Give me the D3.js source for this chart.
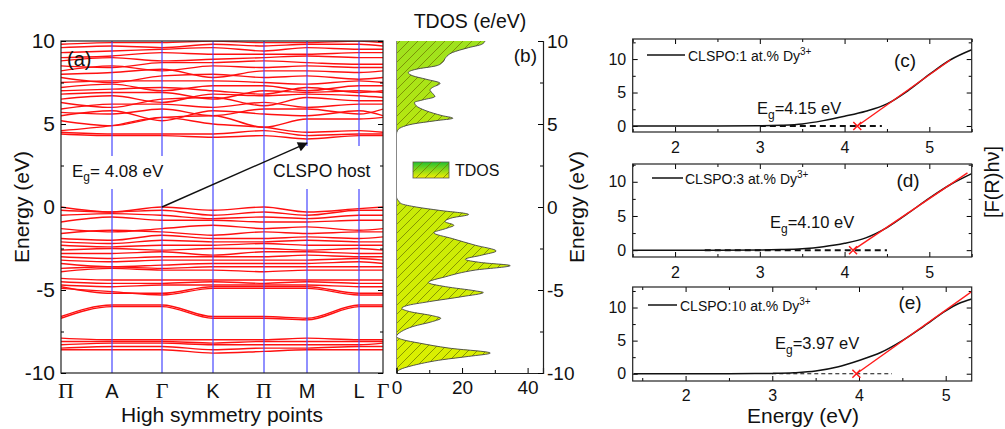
<!DOCTYPE html>
<html><head><meta charset="utf-8">
<script src="https://cdn.jsdelivr.net/npm/d3@7"></script>
<style>
body{margin:0;background:#fff}
svg{display:block}
text{font-family:Arial,"Liberation Sans",sans-serif;fill:#111}
.serif{font-family:"Liberation Serif","Times New Roman",serif}
</style></head>
<body><svg id="chart" width="1005" height="429"></svg>
<script>
// ---------------- DATA ----------------
// (a) band structure: energies (eV) at high-symmetry points along the path
const kLabels = ["Π","A","Γ","K","Π","M","L","Γ"];
const kPath   = [0, 51, 101, 152, 203, 246, 298, 322];
const conductionBands = [
  [4.4,4.3,4.3,4.2,4.3,4.1,4.3,4.3],
  [4.5,4.4,4.4,4.4,4.6,4.3,4.4,4.4],
  [4.6,4.9,5.4,5.0,4.8,4.5,4.6,4.5],
  [5.2,4.9,5.4,5.5,4.8,5.3,5.3,5.4],
  [5.5,5.8,5.2,5.8,5.6,5.5,5.8,5.5],
  [5.7,5.6,5.9,5.5,5.9,5.9,5.6,5.9],
  [5.9,6.2,6.2,6.0,6.3,6.0,6.2,6.2],
  [6.3,6.0,6.5,6.6,6.1,6.6,6.4,6.4],
  [6.5,6.7,6.3,6.8,6.7,6.8,6.7,6.6],
  [6.8,6.9,6.9,6.5,7.0,6.9,7.0,6.9],
  [7.0,7.1,7.2,7.0,6.8,7.2,6.9,7.0],
  [7.2,7.4,7.0,7.3,7.3,7.0,7.3,7.3],
  [7.5,7.6,7.6,7.6,7.5,7.4,7.6,7.5],
  [7.8,7.5,7.9,8.0,7.8,7.9,7.7,7.8],
  [8.0,8.1,8.3,7.8,8.2,8.2,8.1,8.2],
  [8.2,8.5,8.2,8.5,8.4,8.5,8.4,8.4],
  [8.5,8.4,8.7,8.7,8.8,8.7,8.6,8.6],
  [8.8,9.0,8.8,8.9,9.0,9.1,9.0,9.0],
  [9.0,9.1,9.3,9.2,9.2,9.2,9.3,9.3],
  [9.3,9.4,9.5,9.6,9.4,9.6,9.5,9.5],
  [9.6,9.7,9.6,9.8,9.7,9.8,9.8,9.7],
  [9.8,9.9,9.9,10.0,9.9,9.9,10.0,9.9]
];
const valenceBands = [
  [0.0,-0.3,0.0,-0.2,0.0,-0.3,-0.1,0.0],
  [-0.2,-0.3,-0.2,-0.5,-0.3,-0.5,-0.2,-0.2],
  [-0.5,-0.4,-0.5,-0.7,-0.6,-0.7,-0.5,-0.5],
  [-0.9,-0.6,-0.8,-0.8,-0.9,-0.9,-0.8,-0.8],
  [-1.3,-1.5,-1.3,-1.1,-1.3,-1.2,-1.4,-1.3],
  [-1.6,-1.4,-1.5,-1.7,-1.5,-1.6,-1.5,-1.5],
  [-1.9,-2.0,-1.7,-1.9,-1.9,-1.8,-1.9,-1.8],
  [-2.1,-2.2,-2.0,-2.1,-2.1,-2.0,-2.1,-2.1],
  [-2.3,-2.4,-2.3,-2.3,-2.2,-2.3,-2.3,-2.3],
  [-2.6,-2.5,-2.6,-2.5,-2.5,-2.6,-2.5,-2.6],
  [-2.8,-2.8,-2.7,-2.9,-2.7,-2.7,-2.8,-2.8],
  [-3.0,-3.1,-3.0,-3.0,-3.0,-2.9,-3.0,-3.0],
  [-3.2,-3.3,-3.2,-3.2,-3.2,-3.2,-3.1,-3.2],
  [-3.4,-3.6,-3.5,-3.4,-3.4,-3.4,-3.3,-3.4],
  [-3.7,-3.6,-3.7,-3.6,-3.6,-3.6,-3.6,-3.6],
  [-3.9,-3.7,-3.8,-3.8,-3.9,-3.8,-3.8,-3.8],
  [-4.3,-4.4,-4.4,-4.4,-4.4,-4.4,-4.4,-4.4],
  [-4.5,-4.6,-4.6,-4.5,-4.6,-4.5,-4.6,-4.6],
  [-4.7,-4.8,-4.7,-4.7,-4.7,-4.7,-4.8,-4.8],
  [-4.8,-5.2,-5.2,-4.8,-4.8,-4.8,-5.2,-5.2],
  [-4.9,-5.1,-5.3,-4.9,-4.9,-4.9,-5.3,-5.3],
  [-6.6,-5.9,-5.9,-6.6,-6.6,-6.7,-5.9,-5.9],
  [-6.7,-6.0,-6.0,-6.7,-6.7,-6.8,-6.0,-6.0],
  [-7.9,-8.0,-8.0,-8.0,-8.0,-7.9,-8.0,-8.0],
  [-8.1,-8.1,-8.1,-8.2,-8.1,-8.1,-8.1,-8.1],
  [-8.3,-8.2,-8.2,-8.3,-8.3,-8.3,-8.3,-8.2],
  [-8.5,-8.4,-8.4,-8.6,-8.5,-8.5,-8.4,-8.4],
  [-8.6,-8.6,-8.6,-8.8,-8.7,-8.6,-8.6,-8.6]
];
const gapArrowFrom = [2, 0.0];   // [k index, energy]
const gapArrowTo   = [5, 3.85];

// (b) TDOS
const tdosEnergy = [10.0,9.8,9.6,9.3,9.0,8.7,8.5,8.3,8.1,7.9,7.7,7.45,7.2,7.05,6.85,6.65,6.45,6.3,6.1,5.8,5.5,5.35,5.2,5.0,4.8,4.6,4.4,2.0,0.6,0.4,0.2,0.0,-0.2,-0.45,-0.65,-0.88,-1.1,-1.3,-1.55,-1.9,-2.3,-2.65,-2.9,-3.15,-3.35,-3.53,-3.8,-4.2,-4.55,-4.8,-5.05,-5.15,-5.4,-5.7,-5.95,-6.1,-6.3,-6.55,-6.7,-6.9,-7.2,-7.5,-7.8,-8.0,-8.2,-8.5,-8.8,-9.0,-9.2,-9.5,-9.8,-10.0];
const tdosValue  = [27,26,22,17,15,14,12,6,3.6,5,9,13.3,11,10.2,11,11.7,8,5.5,6,9,14,17.2,12,5,1.5,0.3,0,0,0,0.5,1.5,6,13,22,17,14.8,17.5,15,11.4,17,24,30.4,26,21,26,34.7,24,15,9.7,15,24,26.5,20,10,3,1.6,4,11,13.5,11,5,1.5,0,2,7,16,28.6,22,14,6,1,0];

// (c)-(e) Kubelka-Munk plots
const cEnergy = [1.5,2.0,2.5,3.0,3.25,3.5,3.75,4.0,4.25,4.5,4.75,5.0,5.25,5.5];
const cSignal = [0,0,0,0.02,0.1,0.3,0.8,1.45,2.2,3.3,5.3,7.7,9.9,11.4];
const cFitX = [4.15,5.25], cFitY = [0,9.9], cBase = [3.0,4.44];
const dEnergy = [1.5,2.0,2.5,3.0,3.25,3.5,3.75,4.0,4.25,4.5,4.75,5.0,5.25,5.5];
const dSignal = [0,0,0,0.02,0.08,0.2,0.5,1.0,1.8,3.3,5.4,7.6,9.6,11.2];
const dFitX = [4.10,5.45], dFitY = [0,11.3], dBase = [2.35,4.5];
const eEnergy = [1.4,2.0,2.5,2.8,3.0,3.25,3.5,3.75,4.0,4.25,4.5,4.75,5.0,5.15,5.3];
const eSignal = [0,0,0,0.02,0.05,0.15,0.4,1.0,2.0,3.2,5.0,7.2,9.5,10.6,11.3];
const eFitX = [3.97,5.3], eFitY = [0,12.4], eBase = [3.0,4.38];
const bandGaps = ["4.15","4.10","3.97"];
const dopings  = ["1","3","10"];
const panelTags = ["(c)","(d)","(e)"];

// ---------------- DRAW ----------------
const svg = d3.select("#chart");
const defs = svg.append("defs");
const plain = d => String(d);

// ===== Panel (a) =====
const ax = d3.scaleLinear().domain([0,322]).range([61,383]);
const ay = d3.scaleLinear().domain([-10,10]).range([373,41]);
defs.append("clipPath").attr("id","clipA").append("rect")
  .attr("x",61).attr("y",41).attr("width",322).attr("height",332);
const ga = svg.append("g");
const bandLine = d3.line().x((d,i)=>ax(kPath[i])).y(d=>ay(d)).curve(d3.curveMonotoneX);
ga.append("g").attr("clip-path","url(#clipA)")
  .selectAll("path").data(conductionBands.concat(valenceBands)).join("path")
  .attr("d",bandLine).attr("fill","none").attr("stroke","#ff1010").attr("stroke-width",1.4);
ga.append("g").selectAll("line").data(kPath.slice(1,-1)).join("line")
  .attr("x1",d=>ax(d)).attr("x2",d=>ax(d)).attr("y1",41).attr("y2",373)
  .attr("stroke","#4646ff").attr("stroke-width",1.2);
ga.append("rect").attr("x",61).attr("y",41).attr("width",322).attr("height",332)
  .attr("fill","none").attr("stroke","#222").attr("stroke-width",1.2);
// ticks
ga.append("g").attr("transform","translate(61,0)")
  .call(d3.axisLeft(ay).tickValues([-10,-5,0,5,10]).tickSize(-5).tickPadding(6).tickFormat(plain))
  .call(g=>{g.select(".domain").remove();g.selectAll("text").attr("font-size",21).attr("font-family",null);});
ga.append("g").attr("transform","translate(61,0)")
  .call(d3.axisLeft(ay).tickValues([-7.5,-2.5,2.5,7.5]).tickSize(-3).tickFormat(""))
  .call(g=>g.select(".domain").remove());
ga.append("g").attr("transform","translate(383,0)")
  .call(d3.axisRight(ay).tickValues([-10,-5,0,5,10]).tickSize(-5).tickFormat(""))
  .call(g=>g.select(".domain").remove());
ga.append("g").attr("transform","translate(383,0)")
  .call(d3.axisRight(ay).tickValues([-7.5,-2.5,2.5,7.5]).tickSize(-3).tickFormat(""))
  .call(g=>g.select(".domain").remove());
// k labels
ga.append("g").selectAll("text").data(kLabels).join("text")
  .attr("x",(d,i)=>ax(kPath[i]) + (i===0?5:0)).attr("y",398)
  .attr("text-anchor","middle").attr("font-size",d=>(d==="Π"||d==="Γ")?22:20)
  .attr("class",d=>(d==="Π"||d==="Γ")?"serif":null).text(d=>d);
ga.append("text").attr("x",222).attr("y",422).attr("text-anchor","middle").attr("font-size",21)
  .text("High symmetry points");
ga.append("text").attr("transform","translate(29,207) rotate(-90)").attr("text-anchor","middle")
  .attr("font-size",21).text("Energy (eV)");
ga.append("text").attr("x",67).attr("y",66).attr("font-size",20).text("(a)");
// labels with white background
ga.append("rect").attr("x",69).attr("y",156).attr("width",108).attr("height",33).attr("fill","#fff");
ga.append("rect").attr("x",270).attr("y",146).attr("width",108).attr("height",43).attr("fill","#fff");
const egA = ga.append("text").attr("x",72).attr("y",177).attr("font-size",17);
egA.append("tspan").text("E");
egA.append("tspan").attr("font-size",12).attr("dy",4).text("g");
egA.append("tspan").attr("dy",-4).text("= 4.08 eV");
ga.append("text").attr("x",273).attr("y",177).attr("font-size",17.5).text("CLSPO host");
defs.append("marker").attr("id","arrowHead").attr("viewBox","0 0 10 10").attr("refX",9).attr("refY",5)
  .attr("orient","auto").attr("markerUnits","userSpaceOnUse")
  .attr("markerWidth",12).attr("markerHeight",10)
  .append("path").attr("d","M0,0 L10,5 L0,10 Z").attr("fill","#111");
ga.append("line")
  .attr("x1",ax(kPath[gapArrowFrom[0]])).attr("y1",ay(gapArrowFrom[1]))
  .attr("x2",ax(kPath[gapArrowTo[0]])).attr("y2",ay(gapArrowTo[1]))
  .attr("stroke","#111").attr("stroke-width",1.4).attr("marker-end","url(#arrowHead)");

// ===== Panel (b) =====
const bx = d3.scaleLinear().domain([0,44.7]).range([396.5,543]);
const by = d3.scaleLinear().domain([-10,10]).range([373,41]);
const gb = svg.append("g");
const grad = defs.append("linearGradient").attr("id","tdosGrad").attr("gradientUnits","userSpaceOnUse")
  .attr("x1",0).attr("y1",41).attr("x2",0).attr("y2",373);
grad.append("stop").attr("offset","0%").attr("stop-color","#9ee21e");
grad.append("stop").attr("offset","40%").attr("stop-color","#c4ea08");
grad.append("stop").attr("offset","100%").attr("stop-color","#dcf000");
const lgrad = defs.append("linearGradient").attr("id","legGrad").attr("x1",0).attr("y1",0).attr("x2",0).attr("y2",1);
lgrad.append("stop").attr("offset","0%").attr("stop-color","#22c030");
lgrad.append("stop").attr("offset","100%").attr("stop-color","#f4f000");
const pat = defs.append("pattern").attr("id","hatch").attr("patternUnits","userSpaceOnUse")
  .attr("width",9).attr("height",9);
pat.append("path").attr("d","M-2,2 L2,-2 M0,9 L9,0 M7,11 L11,7")
  .attr("stroke","#6f7d00").attr("stroke-width",0.9).attr("opacity",0.85);
const tdos = tdosEnergy.map((e,i)=>({e, v: tdosValue[i]}));
const area = d3.area().y(d=>by(d.e)).x0(bx(0)).x1(d=>bx(d.v)).curve(d3.curveMonotoneY);
gb.append("path").datum(tdos).attr("d",area).attr("fill","url(#tdosGrad)");
gb.append("path").datum(tdos).attr("d",area).attr("fill","url(#hatch)");
gb.append("path").datum(tdos).attr("d",d3.line().y(d=>by(d.e)).x(d=>bx(d.v)).curve(d3.curveMonotoneY))
  .attr("fill","none").attr("stroke","#444").attr("stroke-width",0.9);
gb.append("line").attr("x1",396.5).attr("x2",396.5).attr("y1",41).attr("y2",373)
  .attr("stroke","#888").attr("stroke-width",1);
gb.append("g").attr("transform","translate(0,373)")
  .call(d3.axisBottom(bx).tickValues([0,20,40]).tickSize(-5).tickPadding(8).tickFormat(plain))
  .call(g=>{g.select(".domain").attr("stroke","#222").attr("stroke-width",1.2);g.selectAll("text").attr("font-size",19).attr("font-family",null);});
gb.append("g").attr("transform","translate(0,373)")
  .call(d3.axisBottom(bx).tickValues([10,30]).tickSize(-3).tickFormat(""))
  .call(g=>g.select(".domain").remove());
gb.append("g").attr("transform","translate(543,0)")
  .call(d3.axisRight(by).tickValues([-10,-5,0,5,10]).tickSize(-5).tickPadding(4).tickFormat(plain))
  .call(g=>{g.select(".domain").attr("stroke","#222").attr("stroke-width",1.2);g.selectAll("text").attr("font-size",19).attr("font-family",null);});
gb.append("g").attr("transform","translate(543,0)")
  .call(d3.axisRight(by).tickValues([-7.5,-2.5,2.5,7.5]).tickSize(-3).tickFormat(""))
  .call(g=>g.select(".domain").remove());
gb.append("text").attr("x",470).attr("y",28).attr("text-anchor","middle").attr("font-size",19.5).text("TDOS (e/eV)");
gb.append("text").attr("x",537).attr("y",62).attr("text-anchor","end").attr("font-size",19).text("(b)");
gb.append("rect").attr("x",413).attr("y",162).attr("width",36).attr("height",16)
  .attr("fill","url(#legGrad)").attr("stroke","#555").attr("stroke-width",0.8);
gb.append("rect").attr("x",413).attr("y",162).attr("width",36).attr("height",16).attr("fill","url(#hatch)");
gb.append("text").attr("x",455).attr("y",176).attr("font-size",16).text("TDOS");
gb.append("text").attr("transform","translate(584,207) rotate(-90)").attr("text-anchor","middle")
  .attr("font-size",21).text("Energy (eV)");

// ===== Panels (c)-(e) =====
const panels = [
  {top:39, bottom:132, xd:[1.5,5.5], yd:[-0.9,13], E:cEnergy, V:cSignal, fx:cFitX, fy:cFitY, base:cBase,
   thick:true, legY:55, legX0:647, legX1:685, legTX:688, tagX:905, tagY:67, egX:757, egY:114, pad:9.5},
  {top:164, bottom:257, xd:[1.5,5.5], yd:[-1,12.6], E:dEnergy, V:dSignal, fx:dFitX, fy:dFitY, base:dBase,
   thick:true, legY:178, legX0:652, legX1:683, legTX:685, tagX:908, tagY:187, egX:770, egY:228, pad:9.5},
  {top:287, bottom:381, xd:[1.39,5.3], yd:[-1.1,13.1], E:eEnergy, V:eSignal, fx:eFitX, fy:eFitY, base:eBase,
   thick:false, legY:305, legX0:648, legX1:677, legTX:680, tagX:910, tagY:309, egX:775, egY:349, pad:9}
];
const L=632.7, R=971.7;
panels.forEach((p,pi)=>{
  const g = svg.append("g");
  const x = d3.scaleLinear().domain(p.xd).range([L,R]);
  const y = d3.scaleLinear().domain(p.yd).range([p.bottom,p.top]);
  const id = "clipP"+pi;
  defs.append("clipPath").attr("id",id).append("rect").attr("x",L).attr("y",p.top).attr("width",R-L).attr("height",p.bottom-p.top);
  const xt = d3.range(Math.ceil(p.xd[0]*2)/2, p.xd[1]+0.001, 0.5);
  const major = xt.filter(v=>Number.isInteger(v)), minor = xt.filter(v=>!Number.isInteger(v));
  const clean = s=>s.select(".domain").remove();
  g.append("g").attr("transform",`translate(0,${p.bottom})`)
    .call(d3.axisBottom(x).tickValues(major).tickSize(-5).tickPadding(p.pad).tickFormat(plain))
    .call(s=>{clean(s);s.selectAll("text").attr("font-size",16).attr("font-family",null);});
  g.append("g").attr("transform",`translate(0,${p.bottom})`)
    .call(d3.axisBottom(x).tickValues(minor).tickSize(-3).tickFormat("")).call(clean);
  g.append("g").attr("transform",`translate(0,${p.top})`)
    .call(d3.axisTop(x).tickValues(major).tickSize(-5).tickFormat("")).call(clean);
  g.append("g").attr("transform",`translate(0,${p.top})`)
    .call(d3.axisTop(x).tickValues(minor).tickSize(-3).tickFormat("")).call(clean);
  g.append("g").attr("transform",`translate(${L},0)`)
    .call(d3.axisLeft(y).tickValues([0,5,10]).tickSize(-5).tickPadding(6.5).tickFormat(plain))
    .call(s=>{clean(s);s.selectAll("text").attr("font-size",16).attr("font-family",null);});
  g.append("g").attr("transform",`translate(${L},0)`)
    .call(d3.axisLeft(y).tickValues([2.5,7.5,12.5]).tickSize(-3).tickFormat("")).call(clean);
  g.append("g").attr("transform",`translate(${R},0)`)
    .call(d3.axisRight(y).tickValues([0,5,10]).tickSize(-5).tickFormat("")).call(clean);
  g.append("g").attr("transform",`translate(${R},0)`)
    .call(d3.axisRight(y).tickValues([2.5,7.5,12.5]).tickSize(-3).tickFormat("")).call(clean);
  const pc = g.append("g").attr("clip-path",`url(#${id})`);
  pc.append("line").attr("x1",x(p.base[0])).attr("x2",x(p.base[1])).attr("y1",y(0)).attr("y2",y(0))
    .attr("stroke","#111").attr("stroke-width",p.thick?2:1.1).attr("stroke-dasharray",p.thick?"6,4":"4,3");
  const pts = p.E.map((e,i)=>[e,p.V[i]]);
  pc.append("path").datum(pts).attr("d",d3.line().x(d=>x(d[0])).y(d=>y(d[1])).curve(d3.curveMonotoneX))
    .attr("fill","none").attr("stroke","#111").attr("stroke-width",1.5);
  pc.append("line").attr("x1",x(p.fx[0])).attr("y1",y(p.fy[0])).attr("x2",x(p.fx[1])).attr("y2",y(p.fy[1]))
    .attr("stroke","#ff1a1a").attr("stroke-width",1.4);
  const cx = x(p.fx[0]), cy = y(0);
  pc.append("path").attr("d",`M${cx-4},${cy-4}L${cx+4},${cy+4}M${cx-4},${cy+4}L${cx+4},${cy-4}`)
    .attr("stroke","#ff1a1a").attr("stroke-width",1.5);
  g.append("rect").attr("x",L).attr("y",p.top).attr("width",R-L).attr("height",p.bottom-p.top)
    .attr("fill","none").attr("stroke","#222").attr("stroke-width",1.2);
  g.append("line").attr("x1",p.legX0).attr("x2",p.legX1).attr("y1",p.legY).attr("y2",p.legY)
    .attr("stroke","#111").attr("stroke-width",1.5);
  const lt = g.append("text").attr("x",p.legTX).attr("y",p.legY+5.5).attr("font-size",14);
  lt.append("tspan").text("CLSPO:");
  const dp = lt.append("tspan").text(dopings[pi]);
  if (dopings[pi]==="10") dp.attr("class","serif").attr("font-size",15);
  lt.append("tspan").text(" at.% Dy");
  lt.append("tspan").attr("font-size",10).attr("dy",-6).text("3+");
  g.append("text").attr("x",p.tagX).attr("y",p.tagY).attr("text-anchor","middle").attr("font-size",19).text(panelTags[pi]);
  const eg = g.append("text").attr("x",p.egX).attr("y",p.egY).attr("font-size",16.5);
  eg.append("tspan").text("E");
  eg.append("tspan").attr("font-size",12).attr("dy",5).text("g");
  eg.append("tspan").attr("dy",-5).text("="+bandGaps[pi]+" eV");
});
svg.append("text").attr("x",803).attr("y",423).attr("text-anchor","middle").attr("font-size",21).text("Energy (eV)");
svg.append("text").attr("transform","translate(999,182) rotate(-90)").attr("text-anchor","middle")
  .attr("font-size",20).text("[F(R)hν]");
</script></body></html>
